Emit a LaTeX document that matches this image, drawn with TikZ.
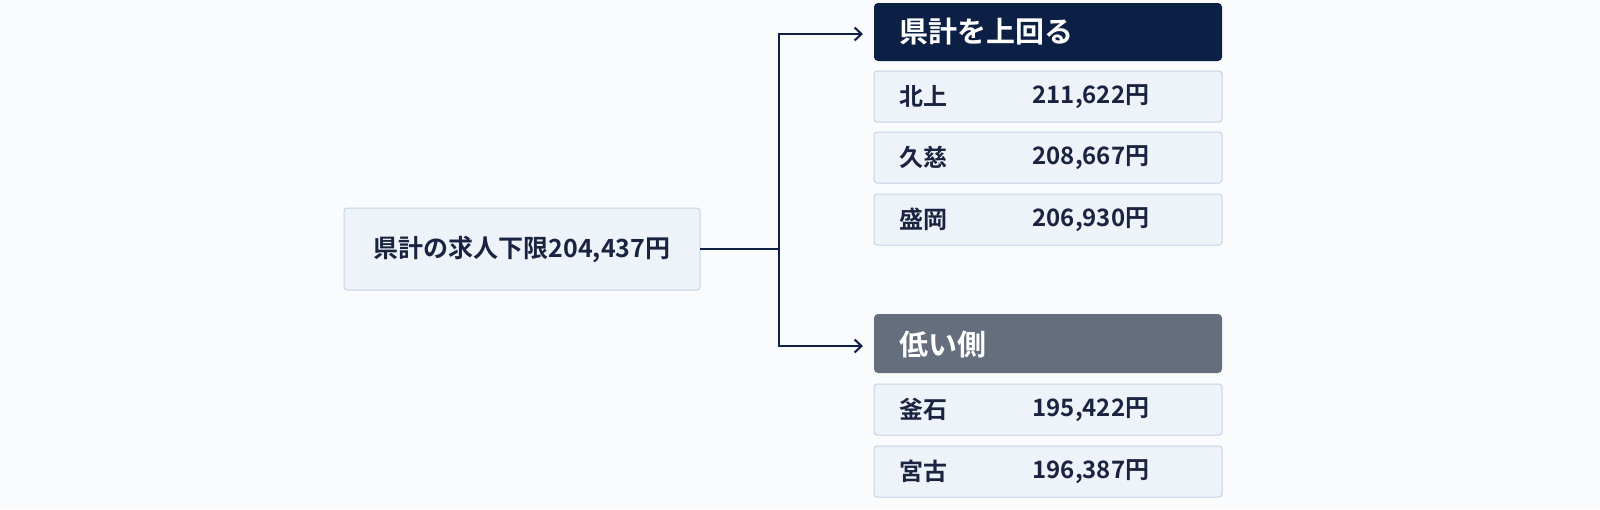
\documentclass[tikz,border=0pt]{standalone}
\usepackage{fontspec}
\setmainfont{Noto Sans CJK JP}[BoldFont={* Bold}]
\usetikzlibrary{arrows.meta}
\definecolor{bg}{HTML}{FAFBFD}
\definecolor{navy}{HTML}{0C1F45}
\definecolor{grayh}{HTML}{646E7C}
\definecolor{rowf}{HTML}{EEF3F9}
\definecolor{rowd}{HTML}{C3D3E6}
\definecolor{txt}{HTML}{1A2440}
\begin{document}
\begin{tikzpicture}[x=1pt,y=-1pt,
  row/.style={draw=rowd,fill=rowf,rounded corners=3pt,line width=1pt},
  hdr/.style={rounded corners=4pt},
  lab/.style={anchor=west,font=\bfseries\fontsize{24}{24}\selectfont,text=txt},
  val/.style={anchor=west,font=\bfseries\fontsize{24}{24}\selectfont,text=txt},
  htxt/.style={anchor=west,font=\bfseries\fontsize{29}{29}\selectfont,text=white},
  conn/.style={draw=navy,line width=2pt}]
\fill[bg] (0,0) rectangle (1600,509);
\useasboundingbox (0,0) rectangle (1600,509);
\draw[row] (344,208) rectangle (700,290);
\node[font=\bfseries\fontsize{25}{25}\selectfont,text=txt] (main) at (522,249) {県計の求人下限204,437円};
\coordinate (mr) at (700,249);
\fill[navy,hdr] (874,3) rectangle (1222,61);
\node[htxt] (h1) at (896,32) {県計を上回る};
\coordinate (h1l) at (863,34);
\foreach \n/\a/\b/\yt in {r1/北上/{211,622円}/71, r2/久慈/{208,667円}/132, r3/盛岡/{206,930円}/194, r4/釜石/{195,422円}/384, r5/宮古/{196,387円}/446}{
  \draw[row] (874,\yt) rectangle (1222,\yt+51);
  \node[lab] (\n a) at (896,\yt+25.5) {\a};
  \node[val] (\n b) at (1029,\yt+25.5) {\b};
}
\fill[grayh,hdr] (874,314) rectangle (1222,373);
\node[htxt] (h2) at (896,344) {低い側};
\coordinate (h2l) at (863,346);
\coordinate (jn) at (779,249);
\draw[conn] (mr) -- (jn);
\draw[conn,-{Straight Barb[length=7pt,width=13pt]}] (jn) |- (h1l);
\draw[conn,-{Straight Barb[length=7pt,width=13pt]}] (jn) |- (h2l);
\end{tikzpicture}
\end{document}
